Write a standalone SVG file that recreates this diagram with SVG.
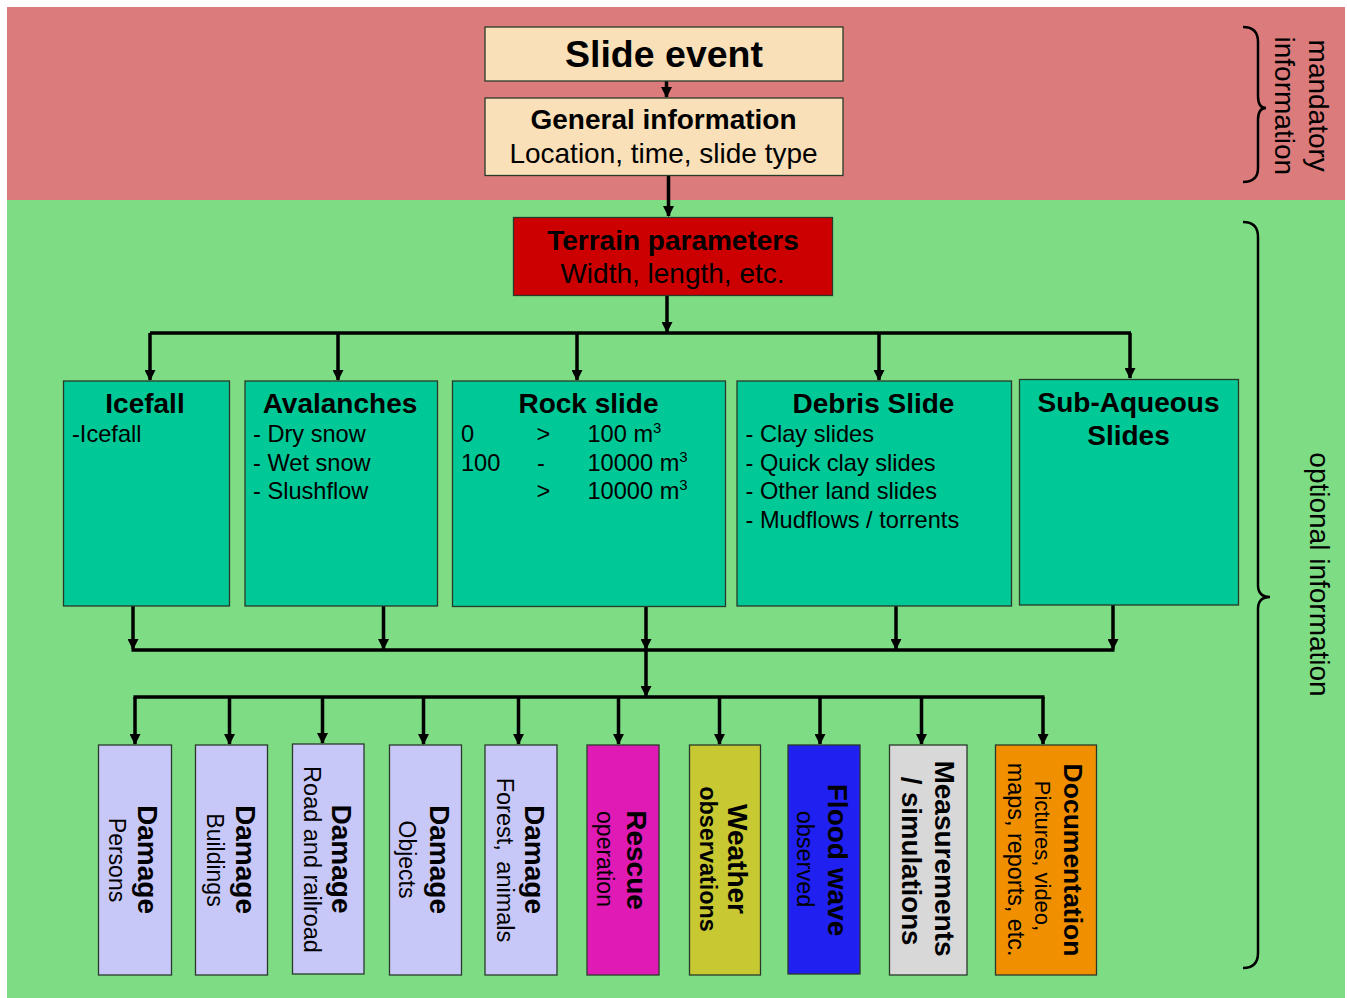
<svg xmlns="http://www.w3.org/2000/svg" width="1347" height="998" viewBox="0 0 1347 998">
<style>
text{font-family:"Liberation Sans",Arial,sans-serif;fill:#000}
.b{font-weight:bold}
.box{stroke:#2a3a2a;stroke-width:1.3}
.top{fill:#fae0b8}
.cat{fill:#00c896}
.dmg{fill:#c8c8f8}
.ln{fill:none;stroke:#000;stroke-width:3.5}
.arr{fill:none;stroke:#000;stroke-width:3.5;marker-end:url(#ah)}
.brace{fill:none;stroke:#000;stroke-width:2.5}
.t28{font-size:28px}
.s23{font-size:23.6px}
</style>
<defs>
<marker id="ah" viewBox="0 0 10 10" refX="9" refY="5" markerWidth="12" markerHeight="11" markerUnits="userSpaceOnUse" orient="auto">
<path d="M0,0 L10,5 L0,10 z" fill="#000"/>
</marker>
</defs>
<rect x="0" y="0" width="1347" height="998" fill="#fff"/>
<rect x="7" y="7" width="1338" height="193" fill="#db7b7b"/>
<rect x="7" y="200" width="1338" height="798" fill="#7edc84"/>

<g id="connectors">
<line class="arr" x1="666.5" y1="81" x2="666.5" y2="97"/>
<line class="arr" x1="668.5" y1="176" x2="668.5" y2="216"/>
<line class="arr" x1="667" y1="296" x2="667" y2="332"/>
<line class="ln" x1="150" y1="333" x2="1131" y2="333"/>
<line class="arr" x1="150" y1="333" x2="150" y2="380"/>
<line class="arr" x1="338" y1="333" x2="338" y2="380"/>
<line class="arr" x1="577" y1="333" x2="577" y2="380"/>
<line class="arr" x1="879" y1="333" x2="879" y2="380"/>
<line class="arr" x1="1130" y1="333" x2="1130" y2="378"/>
<line class="arr" x1="133" y1="606" x2="133" y2="649"/>
<line class="arr" x1="383.5" y1="606" x2="383.5" y2="649"/>
<line class="arr" x1="646" y1="607" x2="646" y2="649"/>
<line class="arr" x1="896" y1="606" x2="896" y2="649"/>
<line class="arr" x1="1113" y1="605" x2="1113" y2="649"/>
<line class="ln" x1="131.5" y1="650" x2="1114.5" y2="650"/>
<line class="arr" x1="646" y1="650" x2="646" y2="696"/>
<line class="ln" x1="133.5" y1="697" x2="1044.5" y2="697"/>
<line class="arr" x1="135" y1="697" x2="135" y2="744"/>
<line class="arr" x1="229.5" y1="697" x2="229.5" y2="744"/>
<line class="arr" x1="322.5" y1="697" x2="322.5" y2="743"/>
<line class="arr" x1="423.5" y1="697" x2="423.5" y2="744"/>
<line class="arr" x1="518.5" y1="697" x2="518.5" y2="744"/>
<line class="arr" x1="618.5" y1="697" x2="618.5" y2="744"/>
<line class="arr" x1="719.5" y1="697" x2="719.5" y2="744"/>
<line class="arr" x1="820" y1="697" x2="820" y2="744"/>
<line class="arr" x1="921.5" y1="697" x2="921.5" y2="744"/>
<line class="arr" x1="1043" y1="697" x2="1043" y2="744"/>
</g>

<g id="slide-event">
<rect class="box top" x="485" y="27" width="358" height="54"/>
<text class="b" x="664" y="67" text-anchor="middle" font-size="37.5">Slide event</text>
</g>
<g id="general-information">
<rect class="box top" x="485" y="98" width="358" height="77.5"/>
<text class="b" x="663.5" y="128.5" text-anchor="middle" font-size="28">General information</text>
<text x="663.5" y="162.5" text-anchor="middle" font-size="28">Location, time, slide type</text>
</g>
<g id="terrain-parameters">
<rect class="box" fill="#cc0000" x="513.5" y="217.5" width="319" height="78"/>
<text class="b" x="673" y="250" text-anchor="middle" font-size="28">Terrain parameters</text>
<text x="672.5" y="283" text-anchor="middle" font-size="28">Width, length, etc.</text>
</g>

<g id="icefall">
<rect class="box cat" x="63.5" y="381" width="166" height="225"/>
<text class="b t28" x="145" y="413" text-anchor="middle">Icefall</text>
<text class="s23" x="72" y="442.3">-Icefall</text>
</g>
<g id="avalanches">
<rect class="box cat" x="245" y="381" width="192.5" height="225"/>
<text class="b t28" x="340" y="413" text-anchor="middle">Avalanches</text>
<text class="s23" x="253" y="442.3">- Dry snow</text>
<text class="s23" x="253" y="470.7">- Wet snow</text>
<text class="s23" x="253" y="499">- Slushflow</text>
</g>
<g id="rock-slide">
<rect class="box cat" x="452.5" y="381" width="273" height="225.5"/>
<text class="b t28" x="588.5" y="413" text-anchor="middle">Rock slide</text>
<text class="s23" x="461" y="442.3">0</text>
<text class="s23" x="536.5" y="442.3">&gt;</text>
<text class="s23" x="587.5" y="442.3">100 m<tspan font-size="15" dy="-9">3</tspan></text>
<text class="s23" x="461" y="470.7">100</text>
<text class="s23" x="537" y="470.7">-</text>
<text class="s23" x="587.5" y="470.7">10000 m<tspan font-size="15" dy="-9">3</tspan></text>
<text class="s23" x="536.5" y="499">&gt;</text>
<text class="s23" x="587.5" y="499">10000 m<tspan font-size="15" dy="-9">3</tspan></text>
</g>
<g id="debris-slide">
<rect class="box cat" x="737" y="381" width="274.5" height="225"/>
<text class="b t28" x="873.5" y="413" text-anchor="middle">Debris Slide</text>
<text class="s23" x="745.5" y="442.3">- Clay slides</text>
<text class="s23" x="745.5" y="470.7">- Quick clay slides</text>
<text class="s23" x="745.5" y="499">- Other land slides</text>
<text class="s23" x="745.5" y="527.5">- Mudflows / torrents</text>
</g>
<g id="sub-aqueous-slides">
<rect class="box cat" x="1019.5" y="379.5" width="219" height="225.5"/>
<text class="b t28" x="1128.5" y="411.7" text-anchor="middle">Sub-Aqueous</text>
<text class="b t28" x="1128.5" y="444.5" text-anchor="middle">Slides</text>
</g>

<g id="damage-persons">
<rect class="box dmg" x="98.5" y="745" width="73" height="230"/>
<text class="b t28" transform="translate(138,859.5) rotate(90)" text-anchor="middle">Damage</text>
<text font-size="23" transform="translate(108.5,860) rotate(90)" text-anchor="middle">Persons</text>
</g>
<g id="damage-buildings">
<rect class="box dmg" x="195.5" y="745" width="72" height="230"/>
<text class="b t28" transform="translate(235.5,859.5) rotate(90)" text-anchor="middle">Damage</text>
<text font-size="23" transform="translate(206.5,860) rotate(90)" text-anchor="middle">Buildings</text>
</g>
<g id="damage-road">
<rect class="box dmg" x="292.5" y="744" width="71.5" height="230"/>
<text class="b t28" transform="translate(332.3,859) rotate(90)" text-anchor="middle">Damage</text>
<text font-size="23.5" transform="translate(303.5,859.5) rotate(90)" text-anchor="middle">Road and railroad</text>
</g>
<g id="damage-objects">
<rect class="box dmg" x="389.5" y="745" width="72" height="230"/>
<text class="b t28" transform="translate(430,859.5) rotate(90)" text-anchor="middle">Damage</text>
<text font-size="23" transform="translate(398.5,859.5) rotate(90)" text-anchor="middle">Objects</text>
</g>
<g id="damage-forest">
<rect class="box dmg" x="485" y="745" width="72" height="230"/>
<text class="b t28" transform="translate(525,859.5) rotate(90)" text-anchor="middle">Damage</text>
<text font-size="23.5" word-spacing="4" transform="translate(496.5,860) rotate(90)" text-anchor="middle">Forest, animals</text>
</g>
<g id="rescue-operation">
<rect class="box" fill="#e01ab4" x="587" y="745" width="72" height="230"/>
<text class="b t28" transform="translate(626.7,860) rotate(90)" text-anchor="middle">Rescue</text>
<text font-size="23" transform="translate(597,859) rotate(90)" text-anchor="middle">operation</text>
</g>
<g id="weather-observations">
<rect class="box" fill="#c8c832" x="689.5" y="745" width="71" height="230"/>
<text class="b t28" transform="translate(728,859) rotate(90)" text-anchor="middle">Weather</text>
<text class="b" font-size="23.4" transform="translate(700,859) rotate(90)" text-anchor="middle">observations</text>
</g>
<g id="flood-wave">
<rect class="box" fill="#2020f0" x="788" y="745" width="72" height="229"/>
<text class="b t28" transform="translate(828,860) rotate(90)" text-anchor="middle">Flood wave</text>
<text font-size="23.5" transform="translate(796.5,859) rotate(90)" text-anchor="middle">observed</text>
</g>
<g id="measurements-simulations">
<rect class="box" fill="#d8d8d8" x="889.5" y="745" width="77.5" height="230"/>
<text class="b t28" transform="translate(935,858.5) rotate(90)" text-anchor="middle">Measurements</text>
<text class="b" font-size="27.6" transform="translate(902,861) rotate(90)" text-anchor="middle">/ simulations</text>
</g>
<g id="documentation">
<rect class="box" fill="#f09000" x="995.5" y="745" width="101" height="230"/>
<text class="b" font-size="26.5" transform="translate(1064,860) rotate(90)" text-anchor="middle">Documentation</text>
<text font-size="22" transform="translate(1035,856) rotate(90)" text-anchor="middle">Pictures, video,</text>
<text font-size="23.4" transform="translate(1008,859.7) rotate(90)" text-anchor="middle">maps, reports, etc.</text>
</g>

<g id="mandatory-information">
<path class="brace" d="M1243,27 Q1258,27 1258,42 L1258,96 Q1258,108 1266,108 Q1258,108 1258,120 L1258,168 Q1258,182 1243,182"/>
<text class="t28" transform="translate(1309,105.7) rotate(90)" text-anchor="middle">mandatory</text>
<text class="t28" transform="translate(1275,105.8) rotate(90)" text-anchor="middle">information</text>
</g>
<g id="optional-information">
<path class="brace" d="M1243,222 Q1258,222 1258,237 L1258,585 Q1258,597 1270,597 Q1258,597 1258,609 L1258,953 Q1258,968 1243,968"/>
<text class="t28" transform="translate(1310,574.5) rotate(90)" text-anchor="middle">optional information</text>
</g>
</svg>
